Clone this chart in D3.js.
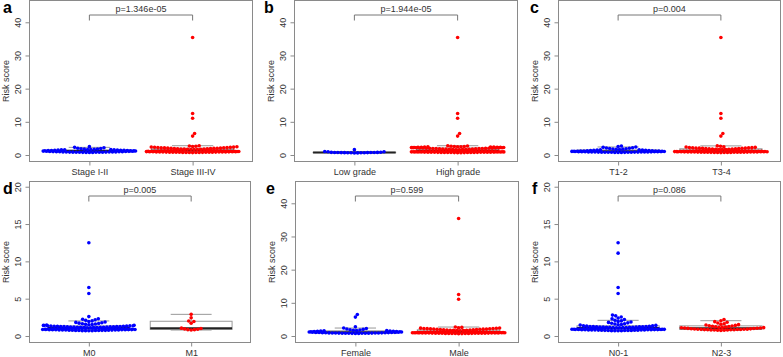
<!DOCTYPE html>
<html lang="en">
<head>
<meta charset="UTF-8">
<title>Risk score by clinical group</title>
<script src="https://d3js.org/d3.v7.min.js"></script>
<style>
  body { margin: 0; background: #fff; }
  svg { display: block; font-family: "Liberation Sans", Arial, sans-serif; }
</style>
</head>
<body>
<div id="chart"></div>
<script>
// risk scores per group
var stageEarly = [0.74,0.77,0.79,0.8,0.81,0.82,0.83,0.84,0.85,0.86,0.87,0.88,0.89,0.9,0.91,0.93,0.94,0.96,0.97,0.99,
  1.01,1.03,1.05,1.07,1.1,1.12,1.15,1.17,1.2,1.23,1.26,1.29,1.31,1.34,1.37,1.39,1.42,1.45,1.47,1.5,
  1.53,1.56,1.59,1.62,1.65,1.68,1.72,1.76,1.81,1.87,1.93,2.04,2.18,2.3,2.52];
var stageLate = [0.72,0.74,0.75,0.77,0.78,0.79,0.8,0.81,0.82,0.82,0.83,0.84,0.85,0.86,0.87,0.88,0.89,0.9,0.91,0.92,
  0.93,0.94,0.95,0.97,0.98,1.0,1.01,1.03,1.04,1.06,1.08,1.1,1.11,1.13,1.15,1.17,1.19,1.21,1.23,1.25,
  1.27,1.3,1.32,1.35,1.37,1.4,1.42,1.45,1.48,1.5,1.53,1.56,1.58,1.61,1.64,1.67,1.7,1.73,1.76,1.8,
  1.83,1.86,1.9,1.93,1.96,1.99,2.02,2.05,2.08,2.11,2.14,2.17,2.2,2.23,2.26,2.3,2.34,2.38,2.42,2.47,
  2.55,2.62,2.71,2.8,5.7,6.5,11.1,12.5,35.4];
var gradeLow = [0.62,0.64,0.66,0.67,0.69,0.7,0.71,0.72,0.73,0.74,0.75,0.76,0.77,0.78,0.8,0.83,0.97,1.0,1.04,1.62];
var gradeHigh = [0.7,0.71,0.72,0.73,0.74,0.75,0.76,0.76,0.77,0.78,0.79,0.8,0.8,0.81,0.82,0.83,0.84,0.85,0.86,0.86,
  0.87,0.88,0.89,0.9,0.91,0.92,0.93,0.94,0.95,0.96,0.97,0.98,0.99,1.0,1.01,1.02,1.04,1.05,1.07,1.08,
  1.1,1.11,1.13,1.14,1.16,1.17,1.19,1.2,1.22,1.23,1.25,1.26,1.28,1.29,1.3,1.32,1.35,1.37,1.4,1.43,
  1.46,1.48,1.51,1.54,1.57,1.6,1.62,1.65,1.68,1.7,1.73,1.76,1.79,1.82,1.85,1.88,1.91,1.93,1.95,1.97,
  1.99,2.01,2.03,2.05,2.07,2.09,2.11,2.13,2.15,2.17,2.19,2.21,2.23,2.25,2.27,2.29,2.31,2.33,2.35,2.37,
  2.39,2.41,2.44,2.47,2.5,2.54,2.58,2.63,2.7,2.8,5.7,6.5,11.1,12.5,35.4];
var tEarly = [0.75,0.77,0.78,0.8,0.81,0.82,0.83,0.84,0.85,0.86,0.87,0.88,0.88,0.89,0.9,0.91,0.92,0.93,0.94,0.95,
  0.96,0.97,0.98,1.0,1.01,1.03,1.04,1.06,1.08,1.1,1.12,1.14,1.16,1.18,1.2,1.22,1.25,1.28,1.31,1.34,
  1.38,1.42,1.46,1.5,1.55,1.6,1.65,1.7,1.76,1.82,1.9,1.97,2.05,2.12,2.2,2.3,2.42,2.55,2.7];
var tLate = [0.72,0.74,0.76,0.77,0.78,0.79,0.8,0.81,0.82,0.83,0.84,0.85,0.86,0.86,0.87,0.88,0.89,0.9,0.91,0.92,
  0.93,0.94,0.95,0.96,0.97,0.98,0.99,1.0,1.02,1.03,1.05,1.06,1.08,1.09,1.11,1.12,1.14,1.16,1.18,1.19,
  1.21,1.23,1.25,1.27,1.29,1.31,1.33,1.36,1.38,1.41,1.44,1.47,1.5,1.53,1.56,1.59,1.62,1.65,1.68,1.71,
  1.74,1.77,1.8,1.84,1.88,1.92,1.96,2.0,2.03,2.06,2.09,2.12,2.15,2.18,2.21,2.25,2.3,2.4,2.5,2.62,
  2.75,5.7,6.5,11.1,12.5,35.4];
var mZero = [0.7,0.71,0.72,0.72,0.73,0.74,0.74,0.75,0.76,0.76,0.77,0.78,0.78,0.79,0.8,0.8,0.81,0.81,0.82,0.83,
  0.83,0.84,0.85,0.85,0.86,0.86,0.87,0.88,0.88,0.89,0.9,0.9,0.91,0.92,0.92,0.93,0.94,0.94,0.95,0.96,
  0.96,0.97,0.98,0.99,1.0,1.0,1.01,1.02,1.03,1.04,1.05,1.06,1.07,1.08,1.09,1.1,1.11,1.12,1.13,1.14,
  1.15,1.16,1.17,1.18,1.19,1.2,1.21,1.22,1.23,1.24,1.25,1.26,1.27,1.28,1.29,1.3,1.31,1.32,1.33,1.35,
  1.36,1.38,1.4,1.42,1.45,1.48,1.5,1.53,1.56,1.6,1.64,1.68,1.72,1.77,1.82,1.88,1.95,2.02,2.1,2.18,
  2.25,2.32,2.6,5.7,6.5,12.5];
var mOne = [0.8,0.85,0.85,0.9,0.95,1.0,1.05,1.7,1.95,2.0,2.45,2.9];
var female = [0.76,0.78,0.8,0.81,0.82,0.83,0.84,0.85,0.86,0.87,0.88,0.89,0.9,0.91,0.92,0.93,0.95,0.96,0.98,1.0,
  1.02,1.04,1.06,1.08,1.1,1.13,1.16,1.19,1.22,1.25,1.28,1.31,1.35,1.39,1.43,1.47,1.52,1.57,1.62,1.68,
  1.75,1.82,1.9,2.0,2.12,2.25,2.4,2.8,5.7,6.5];
var male = [0.71,0.73,0.74,0.75,0.76,0.77,0.78,0.79,0.8,0.81,0.81,0.82,0.83,0.84,0.85,0.86,0.87,0.88,0.89,0.9,
  0.91,0.92,0.93,0.94,0.95,0.96,0.97,0.98,0.99,1.0,1.02,1.03,1.05,1.06,1.08,1.1,1.11,1.13,1.15,1.17,
  1.19,1.21,1.23,1.25,1.27,1.29,1.31,1.34,1.36,1.39,1.42,1.45,1.48,1.51,1.54,1.57,1.6,1.63,1.66,1.69,
  1.72,1.75,1.78,1.82,1.86,1.9,1.94,1.98,2.01,2.04,2.07,2.1,2.13,2.16,2.19,2.22,2.25,2.28,2.32,2.36,
  2.41,2.48,2.6,2.7,11.1,12.5,35.4];
var nLow = [0.7,0.71,0.72,0.72,0.73,0.74,0.75,0.75,0.76,0.77,0.77,0.78,0.79,0.8,0.8,0.81,0.82,0.82,0.83,0.84,
  0.84,0.85,0.86,0.86,0.87,0.88,0.88,0.89,0.9,0.9,0.91,0.92,0.93,0.93,0.94,0.95,0.96,0.97,0.98,0.99,
  1.0,1.01,1.02,1.03,1.04,1.05,1.06,1.07,1.08,1.09,1.1,1.11,1.12,1.13,1.14,1.15,1.16,1.17,1.18,1.19,
  1.2,1.21,1.22,1.23,1.24,1.25,1.26,1.28,1.3,1.32,1.35,1.38,1.42,1.46,1.5,1.55,1.6,1.65,1.7,1.76,
  1.82,1.88,1.95,2.02,2.1,2.2,2.3,2.4,2.55,2.7,2.8,5.7,6.5,11.1,12.5];
var nHigh = [0.75,0.77,0.78,0.8,0.81,0.82,0.83,0.84,0.85,0.86,0.87,0.88,0.89,0.9,0.91,0.92,0.94,0.96,0.98,1.0,
  1.02,1.04,1.06,1.08,1.1,1.12,1.15,1.18,1.21,1.24,1.27,1.3,1.34,1.38,1.42,1.47,1.52,1.58,1.65,1.75,
  1.85,1.92,2.05,2.2];

var ticksWide = [0, 10, 20, 30, 40];
var ticksNarrow = [0, 5, 10, 15, 20];

var panels = [
  { letter: 'a', cats: ['Stage I-II', 'Stage III-IV'], values: [stageEarly, stageLate], p: 'p=1.346e-05', ticks: ticksWide, ylim: [-1.959, 46.57] },
  { letter: 'b', cats: ['Low grade', 'High grade'], values: [gradeLow, gradeHigh], p: 'p=1.944e-05', ticks: ticksWide, ylim: [-1.959, 46.57] },
  { letter: 'c', cats: ['T1-2', 'T3-4'], values: [tEarly, tLate], p: 'p=0.004', ticks: ticksWide, ylim: [-1.959, 46.57] },
  { letter: 'd', cats: ['M0', 'M1'], values: [mZero, mOne], p: 'p=0.005', ticks: ticksNarrow, ylim: [-0.871, 20.70] },
  { letter: 'e', cats: ['Female', 'Male'], values: [female, male], p: 'p=0.599', ticks: ticksWide, ylim: [-1.959, 46.57] },
  { letter: 'f', cats: ['N0-1', 'N2-3'], values: [nLow, nHigh], p: 'p=0.086', ticks: ticksNarrow, ylim: [-0.871, 20.70] }
];

// plot frames (pixels) and letter positions
var frames = [
  { x0: 29.5, x1: 252.5, y0: 0.5, y1: 161.5, lx: 3 },
  { x0: 294.5, x1: 517.5, y0: 0.5, y1: 161.5, lx: 264 },
  { x0: 558.5, x1: 780.5, y0: 0.5, y1: 161.5, lx: 530 },
  { x0: 29.5, x1: 250.5, y0: 181.5, y1: 342.5, lx: 3 },
  { x0: 295.5, x1: 518.5, y0: 181.5, y1: 342.5, lx: 266 },
  { x0: 558.5, x1: 780.5, y0: 181.5, y1: 342.5, lx: 532 }
];

var colors = ['#0000ff', '#ff0000'];
var frameColor = '#8a8a8a';
var textColor = '#333';
var dotGap = 3.3;

// R-style five number summary
function fivenum(v) {
  var s = v.slice().sort(d3.ascending), n = s.length;
  var n4 = Math.floor((n + 3) / 2) / 2;
  return [1, n4, (n + 1) / 2, n + 1 - n4, n].map(function(p) {
    return 0.5 * (s[Math.floor(p) - 1] + s[Math.ceil(p) - 1]);
  });
}
function boxStats(v) {
  var f = fivenum(v), iqr = f[3] - f[1];
  var inside = v.filter(function(d) { return d >= f[1] - 1.5 * iqr && d <= f[3] + 1.5 * iqr; });
  return { q1: f[1], med: f[2], q3: f[3], lo: d3.min(inside), hi: d3.max(inside) };
}

// swarm placement, lowest values first, each point as close to the centre as it fits
function swarm(ys, d) {
  var order = d3.range(ys.length).sort(function(a, b) { return ys[b] - ys[a] || a - b; });
  var xs = new Array(ys.length), done = [];
  order.forEach(function(i) {
    var y = ys[i];
    var near = done.filter(function(j) { return Math.abs(ys[j] - y) < d; });
    var cands = [0];
    near.forEach(function(j) { cands.push(xs[j] + Math.sqrt(d * d - (ys[j] - y) * (ys[j] - y))); });
    near.forEach(function(j) { cands.push(xs[j] - Math.sqrt(d * d - (ys[j] - y) * (ys[j] - y))); });
    var best = null;
    cands.forEach(function(c) {
      if (best !== null && Math.abs(c) >= Math.abs(best) - 1e-9) return;
      var ok = near.every(function(j) { return (xs[j] - c) * (xs[j] - c) + (ys[j] - y) * (ys[j] - y) >= d * d - 1e-6; });
      if (ok) best = c;
    });
    xs[i] = best;
    done.push(i);
  });
  return xs;
}
function wrap(o, w) {
  return (((o + w / 2) % w) + w) % w - w / 2;
}

var svg = d3.select('#chart').append('svg')
  .attr('width', 783)
  .attr('height', 357);

panels.forEach(function(p, k) {
  var f = frames[k];
  var x = d3.scaleLinear().domain([0.42, 2.58]).range([f.x0, f.x1]);
  var y = d3.scaleLinear().domain(p.ylim).range([f.y1, f.y0]);
  var unit = x(2) - x(1);
  var g = svg.append('g');

  // box plots underneath
  p.values.forEach(function(vals, i) {
    var st = boxStats(vals), cx = x(i + 1), hw = 0.4 * unit, sw = 0.2 * unit;
    var bg = g.append('g').attr('stroke', '#999').attr('fill', 'none');
    bg.append('line').attr('x1', cx).attr('x2', cx).attr('y1', y(st.q3)).attr('y2', y(st.hi)).attr('stroke-dasharray', '3,2');
    bg.append('line').attr('x1', cx).attr('x2', cx).attr('y1', y(st.q1)).attr('y2', y(st.lo)).attr('stroke-dasharray', '3,2');
    bg.append('line').attr('x1', cx - sw).attr('x2', cx + sw).attr('y1', y(st.hi)).attr('y2', y(st.hi));
    bg.append('line').attr('x1', cx - sw).attr('x2', cx + sw).attr('y1', y(st.lo)).attr('y2', y(st.lo));
    bg.append('rect').attr('x', cx - hw).attr('width', 2 * hw)
      .attr('y', y(st.q3)).attr('height', Math.max(0.1, y(st.q1) - y(st.q3)))
      .attr('fill', '#fff');
    bg.append('line').attr('x1', cx - hw).attr('x2', cx + hw).attr('y1', y(st.med)).attr('y2', y(st.med))
      .attr('stroke', '#222').attr('stroke-width', 2);
  });

  // beeswarm points, wrapped inside the corral
  p.values.forEach(function(vals, i) {
    var ys = vals.map(function(v) { return y(v); });
    var offs = swarm(ys, dotGap).map(function(o) { return wrap(o, 0.91 * unit); });
    g.append('g').selectAll('circle')
      .data(vals)
      .join('circle')
      .attr('cx', function(d, j) { return x(i + 1) + offs[j]; })
      .attr('cy', function(d) { return y(d); })
      .attr('r', 1.8)
      .attr('fill', colors[i]);
  });

  // frame
  g.append('rect')
    .attr('x', f.x0).attr('y', f.y0)
    .attr('width', f.x1 - f.x0).attr('height', f.y1 - f.y0)
    .attr('fill', 'none').attr('stroke', frameColor);

  // y axis
  var ya = g.append('g')
    .attr('transform', 'translate(' + f.x0 + ',0)')
    .call(d3.axisLeft(y).tickValues(p.ticks).tickSize(4).tickFormat(d3.format('d')));
  ya.select('.domain').remove();
  ya.selectAll('line').attr('stroke', frameColor);
  ya.selectAll('text')
    .attr('x', 0).attr('y', 0).attr('dy', 0)
    .attr('transform', 'translate(-8.5,0) rotate(-90)')
    .attr('text-anchor', 'middle')
    .attr('fill', textColor);
  ya.attr('font-size', 9).attr('font-family', null);

  // x axis
  var xa = g.append('g')
    .attr('transform', 'translate(0,' + f.y1 + ')')
    .call(d3.axisBottom(x).tickValues([1, 2]).tickSize(4).tickFormat(function(d) { return p.cats[d - 1]; }));
  xa.select('.domain').remove();
  xa.selectAll('line').attr('stroke', frameColor);
  xa.selectAll('text').attr('y', 13.5).attr('dy', 0).attr('fill', textColor);
  xa.attr('font-size', 9).attr('font-family', null);

  // y label
  g.append('text')
    .attr('transform', 'translate(' + (f.x0 - 20.5) + ',' + ((f.y0 + f.y1) / 2) + ') rotate(-90)')
    .attr('text-anchor', 'middle')
    .attr('font-size', 9)
    .attr('fill', textColor)
    .text('Risk score');

  // comparison bracket
  var bx1 = x(1), bx2 = x(2), by = f.y0 + 14.5;
  g.append('path')
    .attr('d', 'M' + bx1 + ',' + (by + 5.5) + 'V' + by + 'H' + bx2 + 'V' + (by + 5.5))
    .attr('fill', 'none')
    .attr('stroke', '#777');
  g.append('text')
    .attr('x', (bx1 + bx2) / 2)
    .attr('y', f.y0 + 11)
    .attr('text-anchor', 'middle')
    .attr('font-size', 9)
    .attr('fill', textColor)
    .text(p.p);

  // panel letter
  g.append('text')
    .attr('x', f.lx)
    .attr('y', f.y0 + 12.5)
    .attr('font-size', 16)
    .attr('font-weight', 'bold')
    .attr('fill', '#000')
    .text(p.letter);
});
</script>
</body>
</html>
